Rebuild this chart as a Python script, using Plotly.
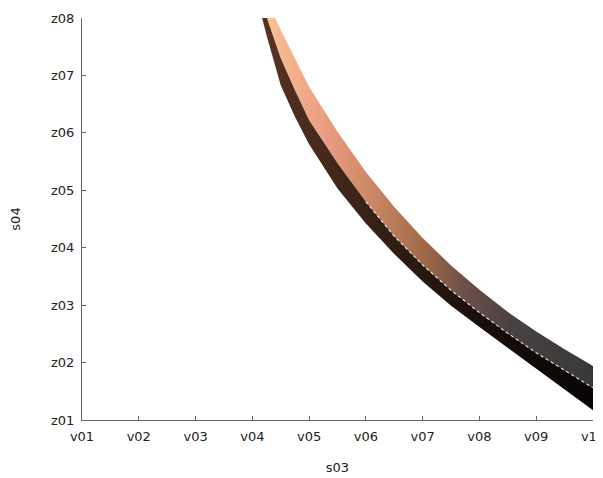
import plotly.graph_objects as go

# ---- data ----
x_ticks = [1, 2, 3, 4, 5, 6, 7, 8, 9, 10]
x_labels = ["v01", "v02", "v03", "v04", "v05", "v06", "v07", "v08", "v09", "v10"]
y_ticks = [1, 2, 3, 4, 5, 6, 7, 8]
y_labels = ["z01", "z02", "z03", "z04", "z05", "z06", "z07", "z08"]

band_x = [4.0, 4.25, 4.5, 4.75, 5.0, 5.5, 6.0, 6.5, 7.0, 7.5, 8.0, 8.5, 9.0, 9.5, 10.0]
upper_edge = [8.92, 8.33, 7.79, 7.29, 6.80, 6.02, 5.32, 4.71, 4.17, 3.69, 3.27, 2.88, 2.54, 2.23, 1.94]
divider = [8.80, 8.02, 7.30, 6.74, 6.22, 5.47, 4.80, 4.20, 3.70, 3.26, 2.87, 2.51, 2.17, 1.86, 1.56]
lower_edge = [8.66, 7.70, 6.83, 6.28, 5.80, 5.03, 4.42, 3.89, 3.41, 2.99, 2.62, 2.26, 1.90, 1.53, 1.17]

face_colors = [
    [0.00, "#fcd6a0"], [0.08, "#f6b88e"], [0.20, "#eca084"], [0.35, "#cc8864"],
    [0.50, "#a06a48"], [0.62, "#6e5048"], [0.75, "#4a4242"], [1.00, "#383838"],
]
side_colors = [
    [0.00, "#5a3424"], [0.30, "#3c2418"], [0.60, "#1e120c"], [1.00, "#060404"],
]

fig = go.Figure()

# copper top face of the band
fig.add_trace(go.Scatter(
    x=band_x + band_x[::-1],
    y=upper_edge + divider[::-1],
    mode="lines", fill="toself",
    line=dict(width=0, color="rgba(0,0,0,0)"),
    fillgradient=dict(type="horizontal", colorscale=face_colors),
    hoverinfo="skip", showlegend=False,
))
# dark side of the band
fig.add_trace(go.Scatter(
    x=band_x + band_x[::-1],
    y=divider + lower_edge[::-1],
    mode="lines", fill="toself",
    line=dict(width=0, color="rgba(0,0,0,0)"),
    fillgradient=dict(type="horizontal", colorscale=side_colors),
    hoverinfo="skip", showlegend=False,
))
# light dotted seam between the two faces
fig.add_trace(go.Scatter(
    x=band_x[6:], y=divider[6:], mode="lines",
    line=dict(color="rgba(255,255,255,0.85)", width=1.2, dash="dot"),
    hoverinfo="skip", showlegend=False,
))

# the page body adds an 8px offset, so the figure is sized to the visible window
fig.update_layout(
    width=595, height=470,
    margin=dict(l=74, r=10, t=10, b=58),
    paper_bgcolor="white", plot_bgcolor="white",
    font=dict(family="DejaVu Sans", size=13, color="#222222"),
    xaxis=dict(
        range=[1, 10], tickvals=x_ticks, ticktext=x_labels,
        showgrid=False, zeroline=False, showline=True, linecolor="#666666",
        linewidth=1, ticks="inside", ticklen=4, tickcolor="#666666",
        ticklabeloverflow="allow", automargin=False, ticklabelstandoff=4,
        tickfont=dict(size=13, color="#222222"),
        title=dict(text="s03", font=dict(size=13, color="#222222"), standoff=20),
    ),
    yaxis=dict(
        range=[1, 8], tickvals=y_ticks, ticktext=y_labels,
        showgrid=False, zeroline=False, showline=True, linecolor="#666666",
        linewidth=1, ticks="inside", ticklen=4, tickcolor="#666666",
        ticklabeloverflow="allow", automargin=False, ticklabelstandoff=4,
        tickfont=dict(size=13, color="#222222"),
        title=dict(text="s04", font=dict(size=13, color="#222222"), standoff=30),
    ),
)

fig.write_html("out.html")
